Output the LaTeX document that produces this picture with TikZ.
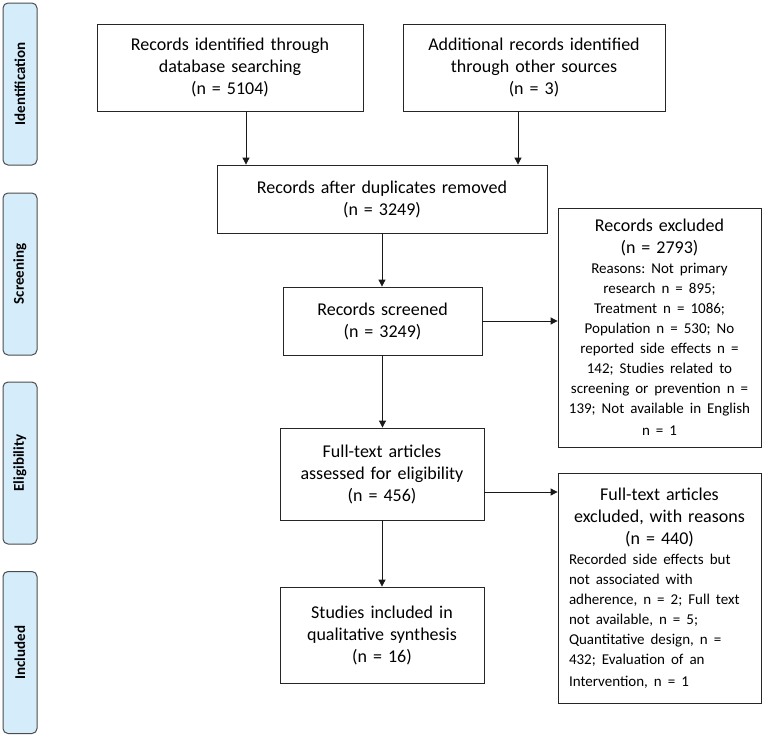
\documentclass[tikz,border=0pt]{standalone}
\usepackage{fontspec}
\setmainfont{Carlito}
\usetikzlibrary{arrows.meta}
\definecolor{stageblue}{RGB}{213,237,251}
\newcommand{\boxfont}{\fontsize{18}{22}\selectfont\frenchspacing}
\newcommand{\reasonfont}{\fontsize{15}{20}\selectfont}

\begin{document}
\begin{tikzpicture}[
    x=1pt, y=-1pt,
    stage/.style={rectangle, rounded corners=5pt, draw=black!70, line width=1pt, fill=stageblue, minimum width=162pt, minimum height=34pt, rotate=90, font=\bfseries\fontsize{15}{18}\selectfont},
    box/.style={rectangle, draw=black!85, line width=0.8pt, inner sep=0pt, align=center, font=\boxfont},
    link/.style={-{Triangle[length=7pt, width=7pt]}, line width=0.8pt, draw=black!90}
]
\useasboundingbox (0,0) rectangle (764,736);

% Stages
\node[stage] (identlab) at (20,84) {Identification};
\node[stage] (screenlab) at (20,274) {Screening};
\node[stage] (eliglab) at (20,463) {Eligibility};
\node[stage] (incllab) at (20,652.5) {Included};

% Identification
\node[box, minimum width=266pt, minimum height=87pt, text width=250pt] (db) at (230,67.5) {Records identified through\\ database searching\\ (n = 5104)};
\node[box, minimum width=262pt, minimum height=87pt, text width=250pt] (other) at (534,67.5) {Additional records identified\\ through other sources\\ (n = 3)};
\node[box, minimum width=330pt, minimum height=68pt, text width=310pt] (dup) at (382,199) {Records after duplicates removed\\ (n = 3249)};

% Screening
\node[box, minimum width=199pt, minimum height=68pt, text width=185pt] (screened) at (382.5,321) {Records screened\\ (n = 3249)};
\node[box, minimum width=203pt, minimum height=239pt, text width=195pt] (excl) at (659.5,327.5) {Records excluded\\ (n = 2793)\par
  \reasonfont Reasons: Not primary\\ research n = 895;\\ Treatment n = 1086;\\ Population n = 530; No\\ reported side effects n =\\ 142; Studies related to\\ screening or prevention n =\\ 139; Not available in English\\ n = 1};

% Eligibility
\node[box, minimum width=204pt, minimum height=92pt, text width=190pt] (full) at (382,474) {Full-text articles\\ assessed for eligibility\\ (n = 456)};
\node[box, minimum width=203pt, minimum height=230pt, text width=181pt, align=left] (fullexcl) at (659.5,588) {{\centering Full-text articles\\ excluded, with reasons\\ (n = 440)\par}
  \reasonfont Recorded side effects but\\ not associated with\\ adherence, n = 2; Full text\\ not available, n = 5;\\ Quantitative design, n =\\ 432; Evaluation of an\\ Intervention, n = 1};

% Included
\node[box, minimum width=204pt, minimum height=96pt, text width=190pt] (studies) at (382,635) {Studies included in\\ qualitative synthesis\\ (n = 16)};

% Connections
\draw[link] ([xshift=16pt]db.south) -- ([xshift=16pt]db.south |- dup.north);
\draw[link] ([xshift=-16pt]other.south) -- ([xshift=-16pt]other.south |- dup.north);
\draw[link] (dup.south) -- (dup.south |- screened.north);
\draw[link] (screened.east) -- (screened.east -| excl.west);
\draw[link] (screened.south) -- (screened.south |- full.north);
\draw[link] ([yshift=-18pt]full.east) -- ([yshift=-18pt]full.east -| fullexcl.west);
\draw[link] (full.south) -- (studies.north);

\end{tikzpicture}
\end{document}
